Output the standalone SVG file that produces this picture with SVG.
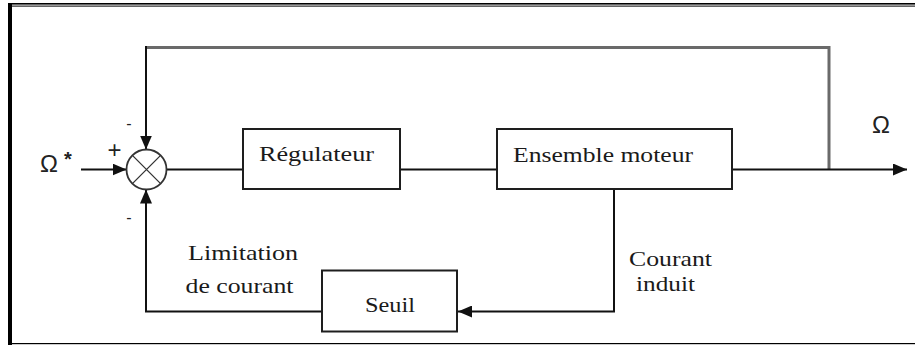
<svg xmlns="http://www.w3.org/2000/svg" width="915" height="345" viewBox="0 0 915 345">
<style>
.box{fill:#fff;stroke:#1e1e1e;stroke-width:2}
.ln{fill:none;stroke:#111;stroke-width:2}
.fb{fill:none;stroke:#6a6a6a;stroke-width:3}
.t{font-family:'Liberation Serif','DejaVu Serif','Times New Roman',serif;font-size:22px;fill:#1a1a1a}
.s{font-family:'Liberation Sans','DejaVu Sans',Arial,sans-serif;fill:#222}
</style>
<defs>
<marker id="ah" viewBox="0 0 14 12" refX="14" refY="6" markerWidth="14" markerHeight="12" markerUnits="userSpaceOnUse" orient="auto">
<path d="M0,0 L14,6 L0,12 Z" fill="#111"/>
</marker>
</defs>
<rect width="915" height="345" fill="#fff"/>
<g id="frame">
<rect x="8" y="3" width="4" height="342" fill="#000"/>
<rect x="8" y="3" width="907" height="1.6" fill="#000"/>
<rect x="11" y="5.6" width="904" height="1" fill="#000"/>
<rect x="11" y="343" width="904" height="1.2" fill="#000"/>
</g>
<g id="connectors">
<path class="fb" d="M829,169.5 V47.5 H146"/>
<path class="ln" d="M146,46 V149.5" marker-end="url(#ah)"/>
<path class="ln" d="M81,169.5 H126.5" marker-end="url(#ah)"/>
<path class="ln" d="M166.5,169.5 H243"/>
<path class="ln" d="M400,169.5 H497"/>
<path class="ln" d="M732,169.5 H907" marker-end="url(#ah)"/>
<path class="ln" d="M614,189 V311.5 H458" marker-end="url(#ah)"/>
<path class="ln" d="M322,311.5 H146 V189.5" marker-end="url(#ah)"/>
</g>
<g id="sum">
<circle cx="146.5" cy="169.5" r="20" fill="#fff" stroke="#333" stroke-width="1.8"/>
<path d="M132.4,155.4 L160.6,183.6 M160.6,155.4 L132.4,183.6" stroke="#333" stroke-width="1.3"/>
<text class="s" x="114.5" y="158" font-size="24" text-anchor="middle">+</text>
<text class="s" x="129" y="129" font-size="16" text-anchor="middle">-</text>
<text class="s" x="129" y="223" font-size="16" text-anchor="middle">-</text>
</g>
<g id="input">
<text class="s" x="40" y="172" font-size="24">Ω</text>
<text class="s" x="64" y="166" font-size="20" font-weight="bold">*</text>
</g>
<g id="output">
<text class="s" x="872" y="132.5" font-size="24">Ω</text>
</g>
<g id="regulateur">
<rect class="box" x="243" y="129" width="157" height="60"/>
<text class="t" x="259" y="161" font-family="Liberation Serif, serif" textLength="115" lengthAdjust="spacingAndGlyphs">Régulateur</text>
</g>
<g id="moteur">
<rect class="box" x="497" y="129" width="235" height="60"/>
<text class="t" x="513" y="162" font-family="Liberation Serif, serif" textLength="180" lengthAdjust="spacingAndGlyphs">Ensemble moteur</text>
</g>
<g id="seuil">
<rect class="box" x="322" y="270.5" width="135" height="61"/>
<text class="t" x="365" y="311.5" font-family="Liberation Serif, serif" textLength="50" lengthAdjust="spacingAndGlyphs">Seuil</text>
</g>
<g id="labels">
<text class="t" x="188" y="260" textLength="110" lengthAdjust="spacingAndGlyphs">Limitation</text>
<text class="t" x="185.5" y="293" textLength="108" lengthAdjust="spacingAndGlyphs">de courant</text>
<text class="t" x="629" y="266" textLength="83" lengthAdjust="spacingAndGlyphs">Courant</text>
<text class="t" x="636" y="291" textLength="59" lengthAdjust="spacingAndGlyphs">induit</text>
</g>
</svg>
